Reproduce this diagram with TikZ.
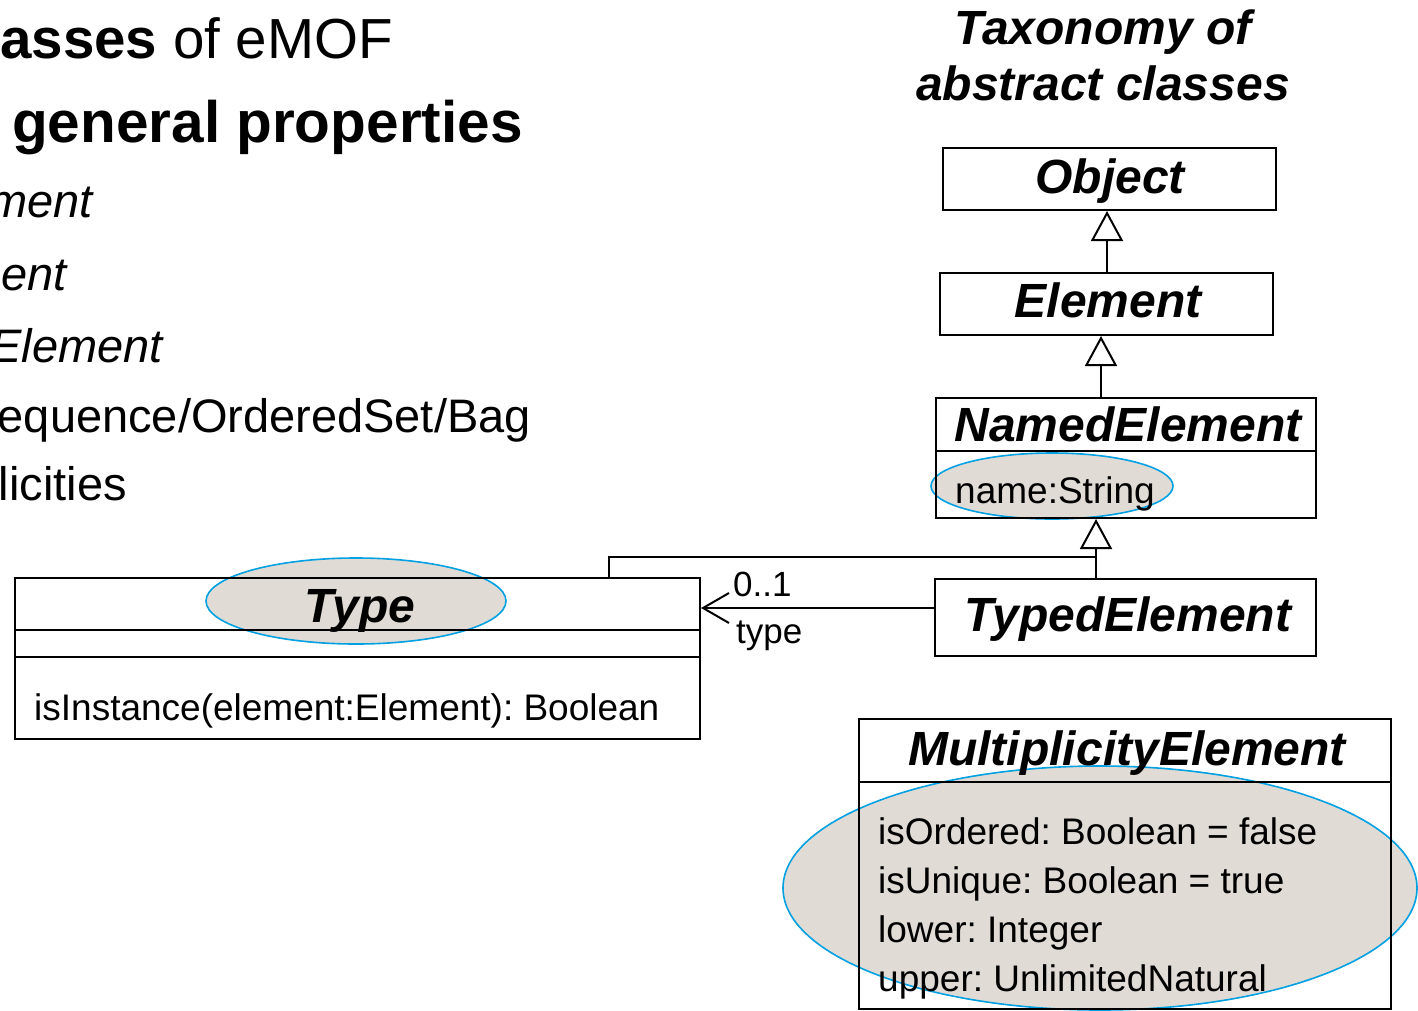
\documentclass[tikz,border=0pt]{standalone}
\usepackage{fontspec}
\setmainfont{Liberation Sans}
\usetikzlibrary{arrows.meta,calc,shapes.geometric}
\frenchspacing
\definecolor{hifill}{RGB}{224,220,213}
\definecolor{hiline}{RGB}{0,160,227}
\tikzset{
  classbox/.style={draw=black, line width=2pt, rectangle, inner sep=0pt, anchor=north west},
  cname/.style={font=\fontsize{48}{56}\selectfont\bfseries\itshape, inner sep=0pt, anchor=base},
  attr/.style={font=\fontsize{37}{44}\selectfont, inner sep=0pt, anchor=base west},
  rolelabel/.style={font=\fontsize{35}{42}\selectfont, inner sep=0pt, anchor=base west},
  hiell/.style={ellipse, fill=hifill, draw=hiline, line width=1.6pt, inner sep=0pt},
  sepline/.style={line width=2pt},
  gen/.style={line width=2pt, -{Triangle[open, length=30pt, width=32pt]}},
  assoc/.style={line width=2pt, -{Straight Barb[length=26pt, width=30pt]}},
  bullet/.style={inner sep=0pt, anchor=base east, font=\fontsize{47}{56}\selectfont},
  headline/.style={inner sep=0pt, anchor=base, font=\fontsize{48}{56}\selectfont\bfseries\itshape},
}
\begin{document}
\begin{tikzpicture}[x=1pt, y=-1pt]
\useasboundingbox (0,0) rectangle (1418,1010);
\clip (0,0) rectangle (1418,1010);

% slide text on the left, running off the left edge of the page
\node[inner sep=0pt, anchor=base west, font=\fontsize{56.5}{66}\selectfont] (l1) at (0,58) {\textbf{asses} of eMOF};
\node[inner sep=0pt, anchor=base west, font=\fontsize{58.5}{68}\selectfont\bfseries] (l2) at (12,142) {general properties};
\node[bullet, font=\fontsize{47}{56}\selectfont\itshape] (l3) at (93,217) {ment};
\node[bullet, font=\fontsize{47}{56}\selectfont\itshape] (l4) at (67,290) {ent};
\node[bullet, font=\fontsize{47}{56}\selectfont\itshape] (l5) at (163,362) {Element};
\node[bullet] (l6) at (531,432) {equence/OrderedSet/Bag};
\node[bullet] (l7) at (127,500) {licities};

% heading of the taxonomy
\node[headline] (t1) at (1103,44) {Taxonomy of};
\node[headline] (t2) at (1103,100) {abstract classes};

% highlight ellipses (drawn below the class frames)
\node[hiell, minimum width=242pt, minimum height=66pt] (hname) at (1052,486) {};
\node[hiell, minimum width=300pt, minimum height=86pt] (htype) at (356,601) {};
\node[hiell, minimum width=634pt, minimum height=244pt] (hmult) at (1100,888) {};

% class frames
\node[classbox, minimum width=333pt, minimum height=62pt] (obj) at (942,147) {};
\node[classbox, minimum width=333pt, minimum height=62pt] (elem) at (939,272) {};
\node[classbox, minimum width=380pt, minimum height=120pt] (named) at (935,397) {};
\node[classbox, minimum width=381pt, minimum height=77pt] (typed) at (934,578) {};
\node[classbox, minimum width=685pt, minimum height=161pt] (type) at (14,577) {};
\node[classbox, minimum width=532pt, minimum height=290pt] (mult) at (858,718) {};

% compartment separators
\draw[sepline] ([yshift=-54pt]named.north west) -- ([yshift=-54pt]named.north east);
\draw[sepline] ([yshift=-53pt]type.north west) -- ([yshift=-53pt]type.north east);
\draw[sepline] ([yshift=-80pt]type.north west) -- ([yshift=-80pt]type.north east);
\draw[sepline] ([yshift=-64pt]mult.north west) -- ([yshift=-64pt]mult.north east);

% class names
\node[cname] (nobj) at (1110,193) {Object};
\node[cname] (nelem) at (1108,317) {Element};
\node[cname] (nnamed) at (1128,441) {NamedElement};
\node[cname] (ntyped) at (1128,631) {TypedElement};
\node[cname] (ntype) at (360,622) {Type};
\node[cname] (nmult) at (1127,765) {MultiplicityElement};

% attributes and operations
\node[attr] (aname) at (955,503) {name:String};
\node[attr] (oinst) at (34,720) {isInstance(element:Element): Boolean};
\node[attr] (a1) at (878,844) {isOrdered: Boolean = false};
\node[attr] (a2) at (878,893) {isUnique: Boolean = true};
\node[attr] (a3) at (878,942) {lower: Integer};
\node[attr] (a4) at (878,991) {upper: UnlimitedNatural};

% generalizations
\coordinate (g1) at ([xshift=0.5pt]elem.north);
\draw[gen] (g1) -- (g1 |- obj.south);
\coordinate (g2) at ([xshift=-25pt]named.north);
\draw[gen] (g2) -- (g2 |- elem.south);
\coordinate (g3) at ([xshift=-29.5pt]typed.north);
\coordinate (gj) at ([yshift=21pt]g3);
\draw[gen] (g3) -- (g3 |- named.south);
\coordinate (tp) at ([xshift=-92pt]type.north east);
\draw[sepline] (tp) |- (gj);

% association TypedElement -> Type
\coordinate (as) at ([yshift=9.5pt]typed.west);
\draw[assoc] (as) -- (as -| type.east);
\node[rolelabel] (mult01) at (733,596) {0..1};
\node[rolelabel] (rtype) at (736,643) {type};
\end{tikzpicture}
\end{document}
